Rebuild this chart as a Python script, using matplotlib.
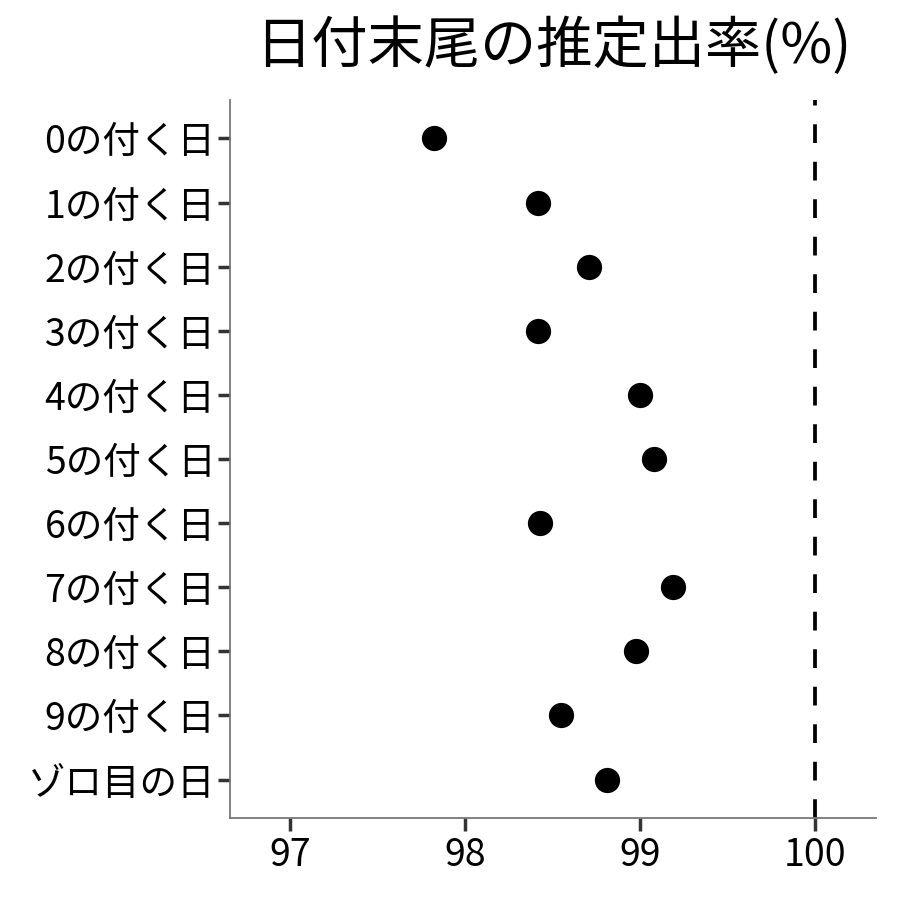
import matplotlib
matplotlib.use('Agg')
import matplotlib.pyplot as plt

plt.rcParams['font.family'] = ['Noto Sans CJK JP', 'DejaVu Sans']

# 日付の末尾ごとの推定出率
labels = ['0の付く日', '1の付く日', '2の付く日', '3の付く日', '4の付く日',
          '5の付く日', '6の付く日', '7の付く日', '8の付く日', '9の付く日',
          'ゾロ目の日']
rates = [97.82, 98.42, 98.71, 98.42, 99.00, 99.08, 98.43, 99.19, 98.98, 98.55, 98.81]
xticks = [97, 98, 99, 100]
ref_line = 100

fig = plt.figure(figsize=(9, 9), dpi=100)
ax = fig.add_axes([0.2556, 0.0911, 0.7177, 0.7978])

pos = list(range(len(labels)))
ax.scatter(rates, pos, s=330, color='black', zorder=3, linewidths=0)
ax.axvline(ref_line, color='black', linestyle=(0, (5, 5)), linewidth=2.7, zorder=2)

ax.set_xlim(96.657, 100.349)
ax.set_ylim(len(labels) - 0.4, -0.6)
ax.set_yticks(pos)
ax.set_yticklabels(labels)
ax.set_xticks(xticks)
ax.set_xticklabels([str(t) for t in xticks])

ax.tick_params(axis='both', labelsize=27, colors='#333333', labelcolor='black',
               length=9, width=2.5, direction='out', pad=4)
ax.tick_params(axis='y', pad=1.5)

for side in ['top', 'right']:
    ax.spines[side].set_visible(False)
for side in ['left', 'bottom']:
    ax.spines[side].set_color('#777777')
    ax.spines[side].set_linewidth(1.3)

fig.text(0.6144, 0.948, '日付末尾の推定出率(%)', fontsize=40.5, ha='center', va='center')

fig.savefig('out.png', dpi=100)
